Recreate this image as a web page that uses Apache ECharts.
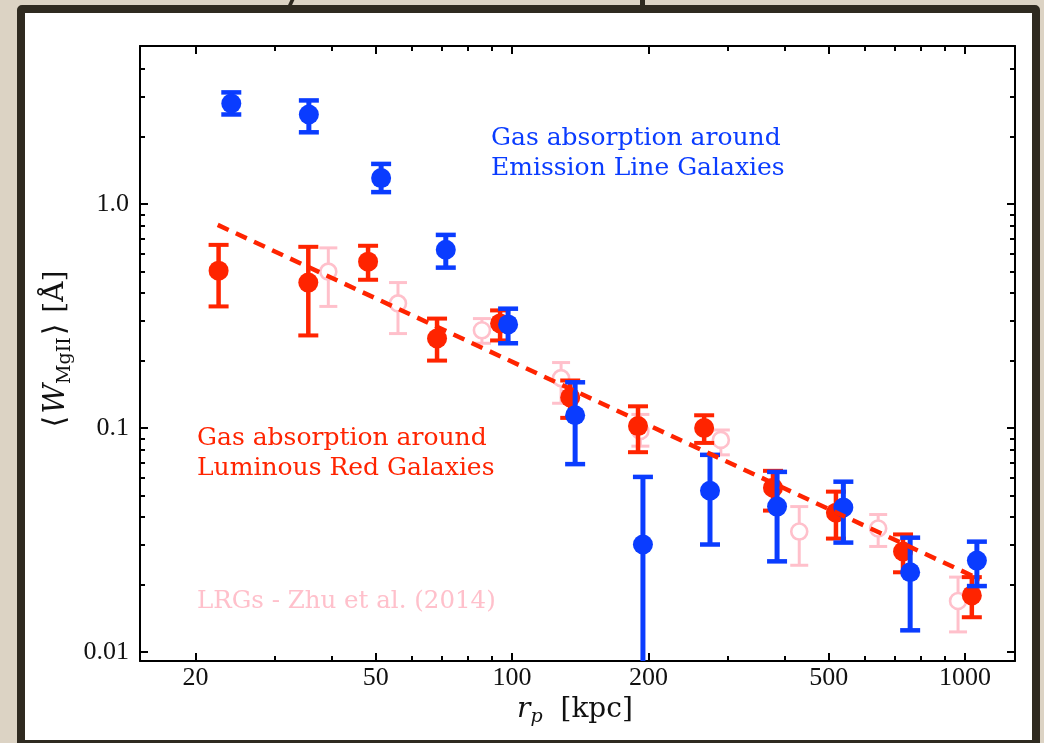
<!DOCTYPE html>
<html>
<head>
<meta charset="utf-8">
<title>Mg II absorption around galaxies</title>
<script src="https://cdn.jsdelivr.net/npm/echarts@6/dist/echarts.min.js"></script>
<style>
  html, body { margin: 0; padding: 0; width: 1044px; height: 743px; overflow: hidden; background: #dcd3c4; }
  #panel { position: absolute; left: 17px; top: 5px; width: 1007px; height: 727px;
           border: 8px solid #2f2a20; border-radius: 5px; background: #ffffff; }
  .stroke { position: absolute; top: 0; height: 6px; background: #2f2a20; }
  #chart { position: absolute; left: 0; top: 0; width: 1044px; height: 743px; }
</style>
</head>
<body>
<div class="stroke" style="left:289px;width:4px;transform:skewX(-25deg);"></div>
<div class="stroke" style="left:640px;width:5px;"></div>
<div id="panel"></div>
<div id="chart"></div>
<script>
// Axis ranges (r_p in kpc, W in Angstrom), both drawn on log10 scales
const xRange = [15.09, 1289];
const yRange = [0.00912, 5.074];

// Tick marks
const xMajorTicks = [20, 50, 100, 200, 500, 1000];
const xMinorTicks = [30, 40, 60, 70, 80, 90, 300, 400, 600, 700, 800, 900];
const yMajorTicks = [0.01, 0.1, 1];
const yTickLabels = ['0.01', '0.1', '1.0'];
const yMinorTicks = [0.02, 0.03, 0.04, 0.05, 0.06, 0.07, 0.08, 0.09,
                     0.2, 0.3, 0.4, 0.5, 0.6, 0.7, 0.8, 0.9, 2, 3, 4];

// Emission Line Galaxies (blue)
const elgR  = [24.0, 35.6, 51.4, 71.4, 98.0, 137.8, 194.5, 273.5, 384.6, 538.7, 756.5, 1062];
const elgW  = [2.81, 2.51, 1.305, 0.625, 0.290, 0.114, 0.0302, 0.0525, 0.0446, 0.0442, 0.0227, 0.0256];
const elgLo = [2.51, 2.09, 1.13, 0.520, 0.239, 0.069, 0.001, 0.0302, 0.0254, 0.0308, 0.0125, 0.0197];
const elgHi = [3.15, 2.90, 1.51, 0.728, 0.341, 0.160, 0.0605, 0.0759, 0.0637, 0.0576, 0.0324, 0.0311];

// Luminous Red Galaxies (red)
const lrgR  = [22.5, 35.5, 48.1, 68.3, 94.1, 134.4, 189.7, 265.5, 376.7, 518.8, 729.6, 1035];
const lrgW  = [0.504, 0.446, 0.553, 0.251, 0.293, 0.137, 0.102, 0.100, 0.0541, 0.0419, 0.0281, 0.0179];
const lrgLo = [0.349, 0.259, 0.459, 0.200, 0.246, 0.111, 0.078, 0.0858, 0.0428, 0.0321, 0.0227, 0.0143];
const lrgHi = [0.657, 0.644, 0.651, 0.308, 0.335, 0.163, 0.125, 0.114, 0.0644, 0.0520, 0.0335, 0.0216];

// LRGs from Zhu et al. (2014) (pink, open)
const zhuR  = [39.3, 56.0, 85.8, 128.3, 192.0, 289.0, 430.5, 643.0, 965.0];
const zhuW  = [0.499, 0.360, 0.273, 0.167, 0.097, 0.0885, 0.0345, 0.0356, 0.0169];
const zhuLo = [0.349, 0.264, 0.239, 0.129, 0.083, 0.0759, 0.0244, 0.0296, 0.0123];
const zhuHi = [0.637, 0.446, 0.308, 0.196, 0.115, 0.0980, 0.0446, 0.0411, 0.0216];

// Power-law fit to the LRG points
const fitR = [22.4, 1079];
const fitW = [0.807, 0.0211];

const BLUE = '#0a3cff';
const RED = '#ff2400';
const PINK = '#ffc0cb';
const SERIF = '"DejaVu Serif", "Liberation Serif", serif';
const NUM = '"Liberation Serif", "DejaVu Serif", serif';
const L10 = Math.log10;

function points(r, w, lo, hi) {
  return r.map((v, i) => [L10(v), L10(w[i]), L10(lo[i]), L10(hi[i])]);
}

function errorBars(st) {
  return function (params, api) {
    const x = api.value(0);
    const c = api.coord([x, api.value(1)]);
    const b = api.coord([x, api.value(2)]);
    const t = api.coord([x, api.value(3)]);
    const hw = st.cap / 2;
    return {
      type: 'group',
      children: [
        { type: 'line', shape: { x1: t[0], y1: t[1], x2: b[0], y2: b[1] },
          style: { stroke: st.color, lineWidth: st.bar } },
        { type: 'line', shape: { x1: t[0] - hw, y1: t[1], x2: t[0] + hw, y2: t[1] },
          style: { stroke: st.color, lineWidth: st.capW } },
        { type: 'line', shape: { x1: b[0] - hw, y1: b[1], x2: b[0] + hw, y2: b[1] },
          style: { stroke: st.color, lineWidth: st.capW } },
        { type: 'circle', shape: { cx: c[0], cy: c[1], r: st.r },
          style: st.open ? { fill: '#ffffff', stroke: st.color, lineWidth: 2.6 }
                         : { fill: st.color } }
      ]
    };
  };
}

function nearestLabel(v, vals, labels) {
  for (let i = 0; i < vals.length; i++) {
    if (Math.abs(L10(vals[i]) - v) < 1e-6) return labels[i];
  }
  return '';
}

const lineBlack = { color: '#000', width: 2 };

function xAxisDef(gridIndex, position, ticks, len, withLine, withLabels) {
  return {
    type: 'value', gridIndex, position,
    min: L10(xRange[0]), max: L10(xRange[1]),
    axisLine: { show: withLine, onZero: false, lineStyle: lineBlack },
    axisTick: { show: true, inside: true, length: len, customValues: ticks.map(L10),
                lineStyle: { color: '#000', width: 2 } },
    axisLabel: withLabels ? {
      show: true, customValues: xMajorTicks.map(L10), margin: 4,
      formatter: v => nearestLabel(v, xMajorTicks, xMajorTicks.map(String)),
      fontFamily: NUM, fontSize: 26, color: '#111'
    } : { show: false },
    splitLine: { show: false }
  };
}

function yAxisDef(gridIndex, position, ticks, len, withLine, withLabels) {
  return {
    type: 'value', gridIndex, position,
    min: L10(yRange[0]), max: L10(yRange[1]),
    axisLine: { show: withLine, onZero: false, lineStyle: lineBlack },
    axisTick: { show: true, inside: true, length: len, customValues: ticks.map(L10),
                lineStyle: { color: '#000', width: 2 } },
    axisLabel: withLabels ? {
      show: true, customValues: yMajorTicks.map(L10), margin: 11,
      formatter: v => nearestLabel(v, yMajorTicks, yTickLabels),
      fontFamily: NUM, fontSize: 26, color: '#111'
    } : { show: false },
    splitLine: { show: false }
  };
}

const gridBox = { left: 140, top: 46, width: 875, height: 615 };

const chart = echarts.init(document.getElementById('chart'), null, { renderer: 'canvas' });
chart.setOption({
  animation: false,
  backgroundColor: 'transparent',
  grid: [Object.assign({}, gridBox), Object.assign({}, gridBox)],
  xAxis: [
    xAxisDef(0, 'bottom', xMajorTicks, 8, true, true),
    xAxisDef(0, 'top', xMajorTicks, 8, true, false),
    xAxisDef(1, 'bottom', xMinorTicks, 5, false, false),
    xAxisDef(1, 'top', xMinorTicks, 5, false, false)
  ],
  yAxis: [
    yAxisDef(0, 'left', yMajorTicks, 8, true, true),
    yAxisDef(0, 'right', yMajorTicks, 8, true, false),
    yAxisDef(1, 'left', yMinorTicks, 5, false, false),
    yAxisDef(1, 'right', yMinorTicks, 5, false, false)
  ],
  series: [
    {
      name: 'LRGs - Zhu et al. (2014)', type: 'custom', clip: true,
      xAxisIndex: 0, yAxisIndex: 0, encode: { x: 0, y: 1 },
      renderItem: errorBars({ color: PINK, bar: 3, cap: 18, capW: 3, r: 8, open: true }),
      data: points(zhuR, zhuW, zhuLo, zhuHi)
    },
    {
      name: 'Fit', type: 'line', xAxisIndex: 0, yAxisIndex: 0,
      symbol: 'none', silent: true,
      lineStyle: { color: RED, width: 4.5, type: [12, 8] },
      data: fitR.map((r, i) => [L10(r), L10(fitW[i])])
    },
    {
      name: 'Luminous Red Galaxies', type: 'custom', clip: true,
      xAxisIndex: 0, yAxisIndex: 0, encode: { x: 0, y: 1 },
      renderItem: errorBars({ color: RED, bar: 4.5, cap: 20, capW: 4, r: 10 }),
      data: points(lrgR, lrgW, lrgLo, lrgHi)
    },
    {
      name: 'Emission Line Galaxies', type: 'custom', clip: true,
      xAxisIndex: 0, yAxisIndex: 0, encode: { x: 0, y: 1 },
      renderItem: errorBars({ color: BLUE, bar: 5, cap: 20, capW: 4.5, r: 10 }),
      data: points(elgR, elgW, elgLo, elgHi)
    }
  ],
  graphic: [
    { type: 'text', x: 491, y: 138, style: { text: 'Gas absorption around', font: '25px ' + SERIF, fill: BLUE, verticalAlign: 'middle' } },
    { type: 'text', x: 491, y: 168, style: { text: 'Emission Line Galaxies', font: '25px ' + SERIF, fill: BLUE, verticalAlign: 'middle' } },
    { type: 'text', x: 197, y: 438, style: { text: 'Gas absorption around', font: '25px ' + SERIF, fill: RED, verticalAlign: 'middle' } },
    { type: 'text', x: 197, y: 468, style: { text: 'Luminous Red Galaxies', font: '25px ' + SERIF, fill: RED, verticalAlign: 'middle' } },
    { type: 'text', x: 197, y: 602, style: { text: 'LRGs - Zhu et al. (2014)', font: '24.5px ' + SERIF, fill: PINK, verticalAlign: 'middle' } },
    {
      type: 'text', x: 575, y: 710,
      style: {
        text: '{i|r}{p|p}{n|  [kpc]}', align: 'center', verticalAlign: 'middle', fill: '#111',
        rich: {
          i: { fontFamily: SERIF, fontStyle: 'italic', fontSize: 28, lineHeight: 34, fill: '#111' },
          p: { fontFamily: SERIF, fontStyle: 'italic', fontSize: 19, lineHeight: 19, padding: [13, 0, 0, 0], verticalAlign: 'bottom', fill: '#111' },
          n: { fontFamily: SERIF, fontSize: 28, lineHeight: 34, fill: '#111' }
        }
      }
    },
    {
      type: 'text', x: 56, y: 350, rotation: Math.PI / 2,
      style: {
        text: '{b|⟨}{w|W}{s|MgII}{b|⟩}{n| [Å]}', align: 'center', verticalAlign: 'middle', fill: '#111',
        rich: {
          b: { fontFamily: SERIF, fontSize: 30, lineHeight: 38, padding: [0, 2, 0, 2], fill: '#111' },
          w: { fontFamily: SERIF, fontStyle: 'italic', fontSize: 29, lineHeight: 38, fill: '#111' },
          s: { fontFamily: SERIF, fontSize: 19, lineHeight: 19, padding: [15, 0, 0, 0], verticalAlign: 'bottom', fill: '#111' },
          n: { fontFamily: SERIF, fontSize: 28, lineHeight: 38, fill: '#111' }
        }
      }
    }
  ]
});
</script>
</body>
</html>
